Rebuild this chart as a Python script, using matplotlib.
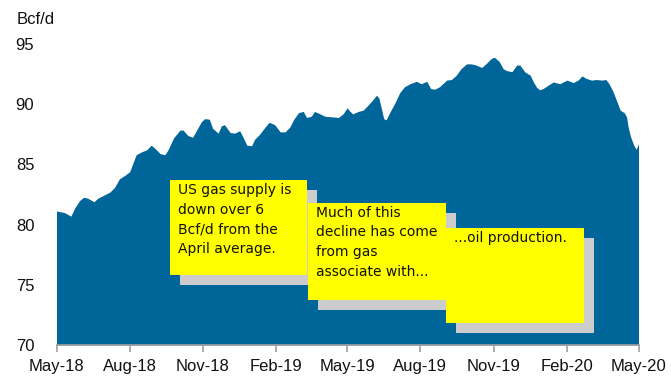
import matplotlib
matplotlib.use("Agg")
import matplotlib.pyplot as plt
import matplotlib.dates as mdates
from matplotlib.patches import Rectangle
import pandas as pd

# US dry gas supply, Bcf/d
dates = [
    "2018-05-01", "2018-05-11", "2018-05-19", "2018-05-24", "2018-05-30", "2018-06-04",
    "2018-06-09", "2018-06-17", "2018-06-22", "2018-06-28", "2018-07-07", "2018-07-13",
    "2018-07-19", "2018-07-26", "2018-08-01", "2018-08-04", "2018-08-09", "2018-08-16",
    "2018-08-22", "2018-08-28", "2018-09-03", "2018-09-08", "2018-09-14", "2018-09-18",
    "2018-09-25", "2018-10-03", "2018-10-07", "2018-10-13", "2018-10-19", "2018-10-24",
    "2018-10-30", "2018-11-03", "2018-11-09", "2018-11-13", "2018-11-20", "2018-11-24",
    "2018-11-28", "2018-12-05", "2018-12-11", "2018-12-17", "2018-12-21", "2018-12-26",
    "2019-01-01", "2019-01-05", "2019-01-11", "2019-01-18", "2019-01-23", "2019-01-30",
    "2019-02-06", "2019-02-12", "2019-02-18", "2019-02-23", "2019-03-01", "2019-03-07",
    "2019-03-11", "2019-03-17", "2019-03-21", "2019-03-28", "2019-04-03", "2019-04-12",
    "2019-04-20", "2019-04-26", "2019-05-01", "2019-05-04", "2019-05-08", "2019-05-15",
    "2019-05-21", "2019-05-27", "2019-06-02", "2019-06-07", "2019-06-10", "2019-06-13",
    "2019-06-16", "2019-06-19", "2019-06-23", "2019-06-30", "2019-07-06", "2019-07-12",
    "2019-07-19", "2019-07-27", "2019-08-02", "2019-08-09", "2019-08-14", "2019-08-19",
    "2019-08-25", "2019-09-03", "2019-09-09", "2019-09-15", "2019-09-21", "2019-09-28",
    "2019-10-04", "2019-10-10", "2019-10-17", "2019-10-23", "2019-10-29", "2019-11-02",
    "2019-11-08", "2019-11-13", "2019-11-17", "2019-11-24", "2019-11-30", "2019-12-04",
    "2019-12-10", "2019-12-17", "2019-12-21", "2019-12-25", "2019-12-29", "2020-01-02",
    "2020-01-09", "2020-01-15", "2020-01-23", "2020-02-01", "2020-02-09", "2020-02-15",
    "2020-02-20", "2020-02-25", "2020-03-03", "2020-03-09", "2020-03-16", "2020-03-21",
    "2020-03-25", "2020-03-30", "2020-04-04", "2020-04-08", "2020-04-13", "2020-04-16",
    "2020-04-18", "2020-04-21", "2020-04-25", "2020-04-28", "2020-05-01",
]
supply = [
    81.13, 81.0, 80.7, 81.4, 82.0, 82.27,
    82.2, 81.9, 82.2, 82.4, 82.7, 83.1,
    83.8, 84.1, 84.4, 84.95, 85.8, 86.05,
    86.2, 86.6, 86.25, 85.9, 85.8, 86.2,
    87.2, 87.85, 87.85, 87.4, 87.25, 87.85,
    88.55, 88.8, 88.75, 88.0, 87.6, 88.2,
    88.3, 87.65, 87.6, 87.8, 87.3, 86.6,
    86.55, 87.1, 87.5, 88.1, 88.5, 88.3,
    87.7, 87.7, 88.1, 88.75, 89.3, 89.4,
    88.9, 89.0, 89.4, 89.2, 89.0, 88.95,
    88.9, 89.2, 89.7, 89.45, 89.2, 89.4,
    89.5, 89.9, 90.35, 90.75, 90.5, 89.65,
    88.8, 88.7, 89.25, 90.1, 90.95, 91.45,
    91.7, 91.9, 91.7, 91.9, 91.3, 91.25,
    91.45, 92.0, 92.05, 92.4, 92.95, 93.35,
    93.35, 93.25, 93.05, 93.4, 93.8, 93.9,
    93.55, 92.95, 92.8, 92.7, 93.25, 93.25,
    92.7, 92.4, 91.85, 91.4, 91.2, 91.3,
    91.6, 91.85, 91.7, 92.0, 91.8, 92.0,
    92.35, 92.15, 92.0, 92.05, 92.0, 92.05,
    91.7, 91.05, 90.2, 89.5, 89.3, 88.95,
    88.1, 87.3, 86.6, 86.25, 86.7,
]

tick_dates = ["2018-05-01", "2018-08-01", "2018-11-01", "2019-02-01", "2019-05-01",
              "2019-08-01", "2019-11-01", "2020-02-01", "2020-05-01"]
y_ticks = [70, 75, 80, 85, 90, 95]

notes = [
    "US gas supply is\ndown over 6\nBcf/d from the\nApril average.",
    "Much of this\ndecline has come\nfrom gas\nassociate with...",
    "...oil production.",
]

plt.rcParams["font.family"] = ["Liberation Sans", "DejaVu Sans"]

W, H = 671, 380
fig = plt.figure(figsize=(W / 100, H / 100), dpi=100)
ax = fig.add_axes([56.5 / W, 1 - 345 / H, (638.5 - 56.5) / W, (345 - 44) / H])

x = pd.to_datetime(dates)
ax.fill_between(x, 70, supply, color="#006699", linewidth=0)

ax.set_xlim(pd.Timestamp("2018-05-01"), pd.Timestamp("2020-05-01"))
ax.set_ylim(70, 95)
ax.set_xticks(pd.to_datetime(tick_dates))
ax.xaxis.set_major_formatter(mdates.DateFormatter("%b-%y"))
ax.set_yticks(y_ticks)

for side in ("top", "right", "left"):
    ax.spines[side].set_visible(False)
ax.spines["bottom"].set_color("#a0a0a0")
ax.spines["bottom"].set_linewidth(1.2)
ax.tick_params(axis="x", length=5, width=1.2, color="#a0a0a0", labelsize=12, pad=5,
               labelcolor="#111111")
ax.tick_params(axis="y", length=0, labelsize=12, pad=16, labelcolor="#111111")

fig.text(17 / W, 1 - 19 / H, "Bcf/d", fontsize=12, va="center", ha="left", color="#111111")

# Sticky-note call-outs: (left, top, width, height) in pixels
boxes = [
    (170, 180, 137, 95),
    (307.5, 203, 138.5, 97),
    (446, 228, 138, 95),
]
for (bx, by, bw, bh), note in zip(boxes, notes):
    shadow = Rectangle((bx + 10, H - by - bh - 10), bw, bh, transform=None,
                       facecolor="#cccccc", edgecolor="none", zorder=5)
    fig.patches.append(shadow)
    sticky = Rectangle((bx, H - by - bh), bw, bh, transform=None,
                       facecolor="#ffff00", edgecolor="none", zorder=6)
    fig.patches.append(sticky)
    fig.text((bx + 8) / W, 1 - (by + 3) / H, note, fontsize=10, va="top", ha="left",
             family=["DejaVu Sans"], linespacing=1.5, color="#111111", zorder=7)

fig.savefig("out.png", dpi=100)
